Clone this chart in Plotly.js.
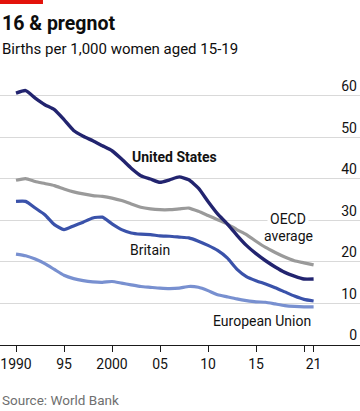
<!DOCTYPE html>
<html>
<head>
<meta charset="utf-8">
<script src="https://cdn.plot.ly/plotly-3.0.1.min.js"></script>
<style>
html,body{margin:0;padding:0;background:#fff;}
#chart{width:360px;height:411px;}
</style>
</head>
<body>
<div id="chart"></div>
<script>
var years = [1990,1991,1992,1993,1994,1995,1996,1997,1998,1999,2000,2001,2002,2003,2004,2005,2006,2007,2008,2009,2010,2011,2012,2013,2014,2015,2016,2017,2018,2019,2020,2021];
var unitedStates = [60.7,61.3,59.5,57.9,56.7,54.3,51.7,50.3,49.2,48.0,46.8,44.8,42.6,40.8,40.0,39.2,39.8,40.5,39.8,37.8,34.6,31.6,29.2,26.5,24.0,22.0,20.3,18.8,17.5,16.6,15.9,15.9];
var oecdAverage = [39.7,40.1,39.4,38.9,38.4,37.6,36.9,36.4,36.0,35.8,35.4,34.8,34.0,33.2,32.8,32.6,32.6,32.8,33.0,32.2,31.2,30.2,29.2,27.8,26.6,25.0,23.5,22.3,21.2,20.3,19.8,19.3];
var britain = [34.6,34.6,33.0,31.4,29.0,27.8,28.7,29.6,30.6,30.8,29.2,27.8,27.0,26.7,26.6,26.3,26.2,26.0,25.8,25.0,24.0,22.8,21.0,18.3,16.5,15.5,14.7,13.8,12.8,11.8,11.0,10.6];
var europeanUnion = [21.9,21.5,20.7,19.6,18.2,16.8,16.0,15.5,15.2,15.1,15.3,14.9,14.5,14.1,13.9,13.7,13.6,13.7,14.1,13.9,13.1,12.1,11.6,11.1,10.7,10.4,10.3,9.9,9.5,9.3,9.2,9.2];
var xTickVals = [1990,1995,2000,2005,2010,2015,2020,2021];
var xTickText = ["1990","95","2000","05","10","15","","21"];
var yTickVals = [0,10,20,30,40,50,60];
var yTickText = ["0","10","20","30","40","50","60"];

var FONT = "Roboto, 'Liberation Sans', sans-serif";

function tr(y, color, width) {
  return {x: years, y: y, type: 'scatter', mode: 'lines',
    line: {color: color, width: width, shape: 'spline', smoothing: 0.5},
    hoverinfo: 'skip', showlegend: false};
}
var data = [
  tr(europeanUnion, '#7890d0', 3.2),
  tr(britain, '#3a52aa', 3.2),
  tr(oecdAverage, '#9a9a9a', 3.2),
  tr(unitedStates, '#22246f', 3.4)
];

// plot area: top 60px, bottom 345px (height 285)
var layout = {
  width: 360, height: 411,
  margin: {l: 0, r: 0, t: 60, b: 66, pad: 0},
  paper_bgcolor: '#fff', plot_bgcolor: '#fff',
  font: {family: FONT, color: '#121212'},
  xaxis: {
    range: [1988.333, 2025.833], fixedrange: true,
    tickvals: xTickVals, ticktext: xTickText,
    ticks: 'outside', ticklen: 6, tickwidth: 1, tickcolor: '#1a1a1a',
    showline: true, linecolor: '#1a1a1a', linewidth: 1,
    showgrid: false, zeroline: false,
    tickfont: {family: FONT, size: 14, color: '#121212'}
  },
  yaxis: {
    range: [0, 68.67], fixedrange: true, side: 'right',
    tickvals: yTickVals, ticktext: yTickText,
    ticklabelposition: 'inside top', ticks: '',
    showgrid: true, gridcolor: '#d9d9d9', gridwidth: 1,
    zeroline: false, showline: false,
    tickfont: {family: FONT, size: 14, color: '#121212'}
  },
  shapes: [
    {type: 'rect', xref: 'paper', yref: 'paper', x0: 0, x1: 0.1194, y0: 1.1965, y1: 1.2105,
     fillcolor: '#e3120b', line: {width: 0}}
  ],
  annotations: [
    {xref: 'paper', yref: 'paper', x: 0, y: 1.1274, xanchor: 'left', yanchor: 'middle', showarrow: false,
     text: '<b>16 & pregnot</b>', font: {family: FONT, size: 19.5, color: '#0d0d0d'}},
    {xref: 'paper', yref: 'paper', x: 0, y: 1.0375, xanchor: 'left', yanchor: 'middle', showarrow: false,
     text: 'Births per 1,000 women aged 15-19', font: {family: FONT, size: 15, color: '#0d0d0d'}},
    {xref: 'paper', yref: 'paper', x: 0, y: -0.193, xanchor: 'left', yanchor: 'middle', showarrow: false,
     text: 'Source: World Bank', font: {family: FONT, size: 13.5, color: '#6f6f6f'}},
    {x: 2006.46, y: 45.25, showarrow: false, xanchor: 'center', yanchor: 'middle',
     text: '<b>United States</b>', font: {family: FONT, size: 14, color: '#121212'}},
    {x: 2018.36, y: 30.4, showarrow: false, xanchor: 'center', yanchor: 'middle',
     text: 'OECD', bgcolor: '#ffffff', borderpad: 2, font: {family: FONT, size: 14, color: '#121212'}},
    {x: 2018.36, y: 26.3, showarrow: false, xanchor: 'center', yanchor: 'middle',
     text: 'average', font: {family: FONT, size: 14, color: '#121212'}},
    {x: 2003.93, y: 22.96, showarrow: false, xanchor: 'center', yanchor: 'middle',
     text: 'Britain', font: {family: FONT, size: 14, color: '#121212'}},
    {x: 2020.97, y: 5.78, showarrow: false, xanchor: 'right', yanchor: 'middle',
     text: 'European Union', font: {family: FONT, size: 14, color: '#121212'}}
  ]
};

Plotly.newPlot('chart', data, layout, {displayModeBar: false, staticPlot: true});
</script>
</body>
</html>
